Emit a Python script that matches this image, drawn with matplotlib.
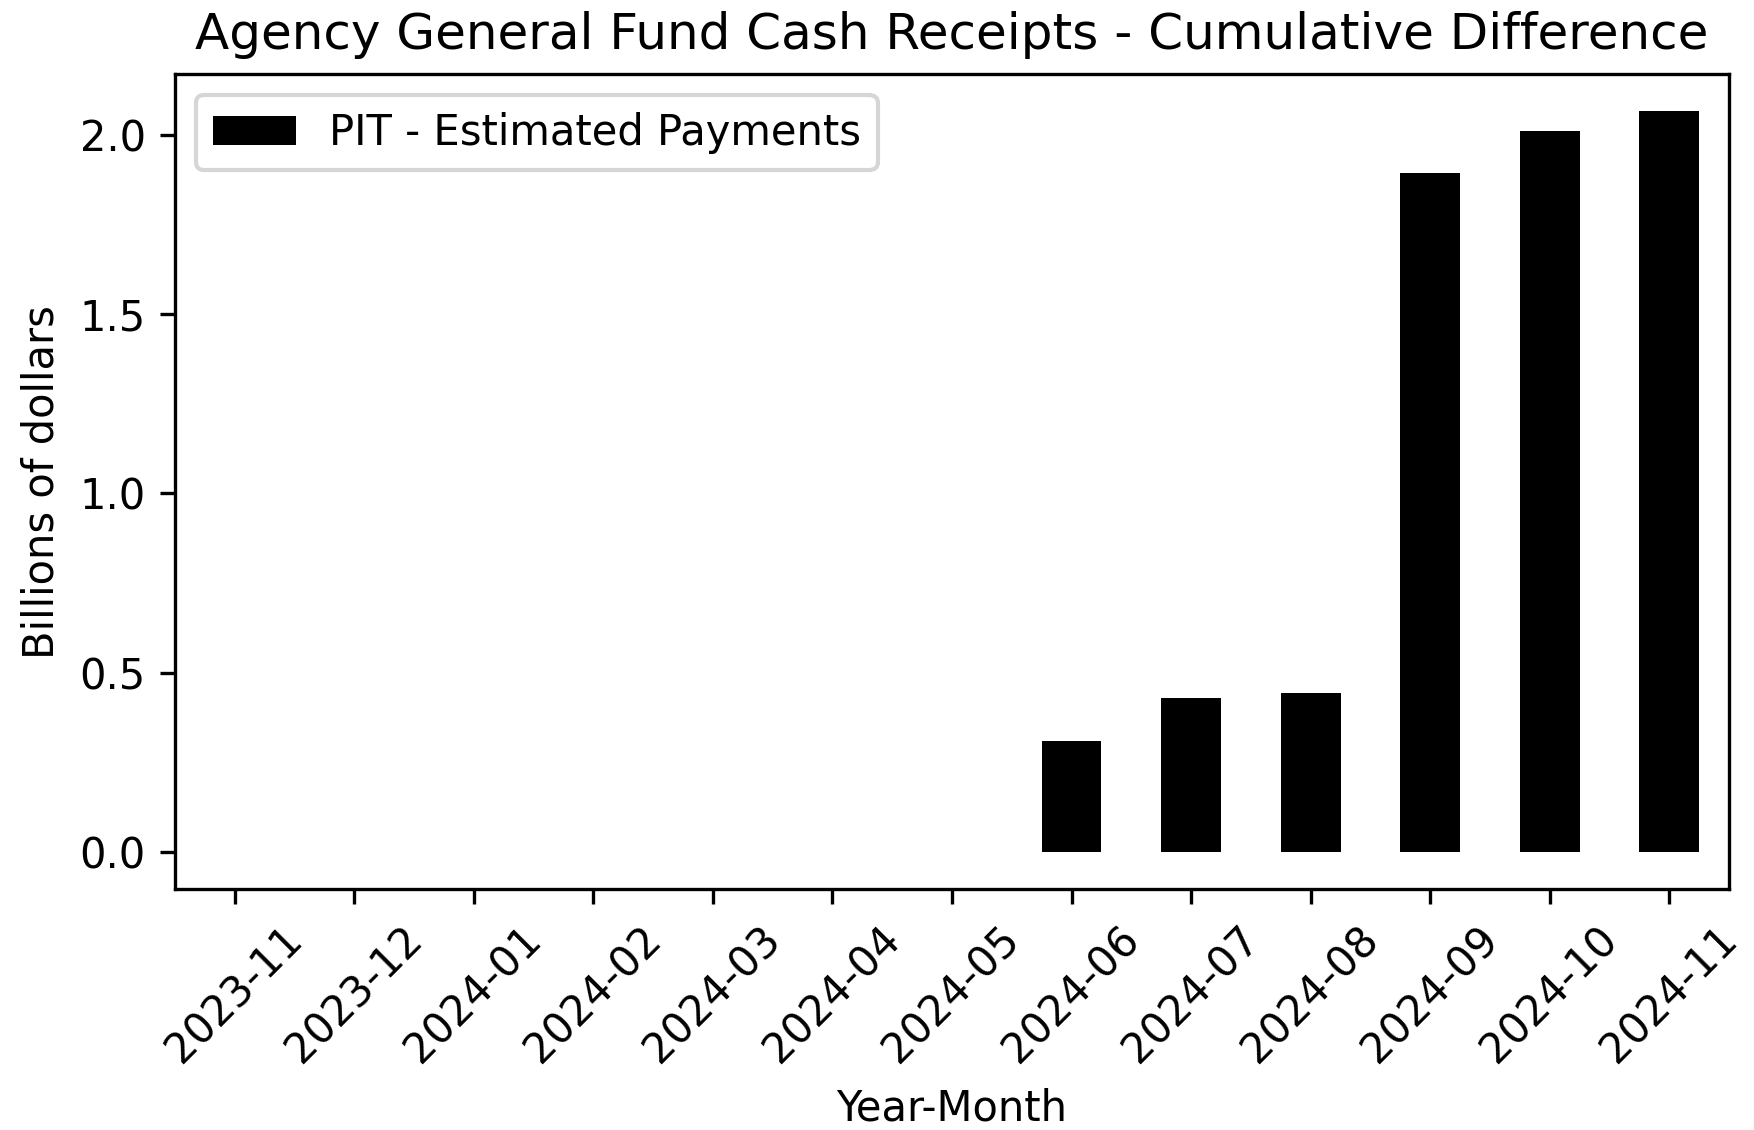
import matplotlib
matplotlib.use("Agg")
import matplotlib.pyplot as plt
from matplotlib.ticker import MultipleLocator
import numpy as np

# Data (billions of dollars, cumulative difference)
months = ["2023-11", "2023-12", "2024-01", "2024-02", "2024-03", "2024-04",
          "2024-05", "2024-06", "2024-07", "2024-08", "2024-09", "2024-10", "2024-11"]
pit_estimated = [0.0, 0.0, 0.0, 0.0, 0.0, 0.0,
                 0.0, 0.309, 0.428, 0.444, 1.894, 2.009, 2.065]

fig, ax = plt.subplots(figsize=(1754 / 300, 1130 / 300), dpi=300)
fig.subplots_adjust(left=175 / 1754, right=1729 / 1754, bottom=1 - 889 / 1130, top=1 - 74.3 / 1130)

x = np.arange(len(months))
ax.bar(x, pit_estimated, width=0.5, color="black", label="PIT - Estimated Payments")
ax.set_xlim(-0.5, len(months) - 0.5)
ax.set_xticks(x)
ax.set_xticklabels(months, rotation=45)

# 5% margin on both ends, like pandas' bar plot
top = max(pit_estimated)
pad = 0.05 * top
ax.set_ylim(-pad, top + pad)
ax.yaxis.set_major_locator(MultipleLocator(0.5))

ax.set_title("Agency General Fund Cash Receipts - Cumulative Difference")
ax.set_xlabel("Year-Month")
ax.set_ylabel("Billions of dollars")
ax.legend(loc="upper left")

fig.savefig("out.png", dpi=300)
